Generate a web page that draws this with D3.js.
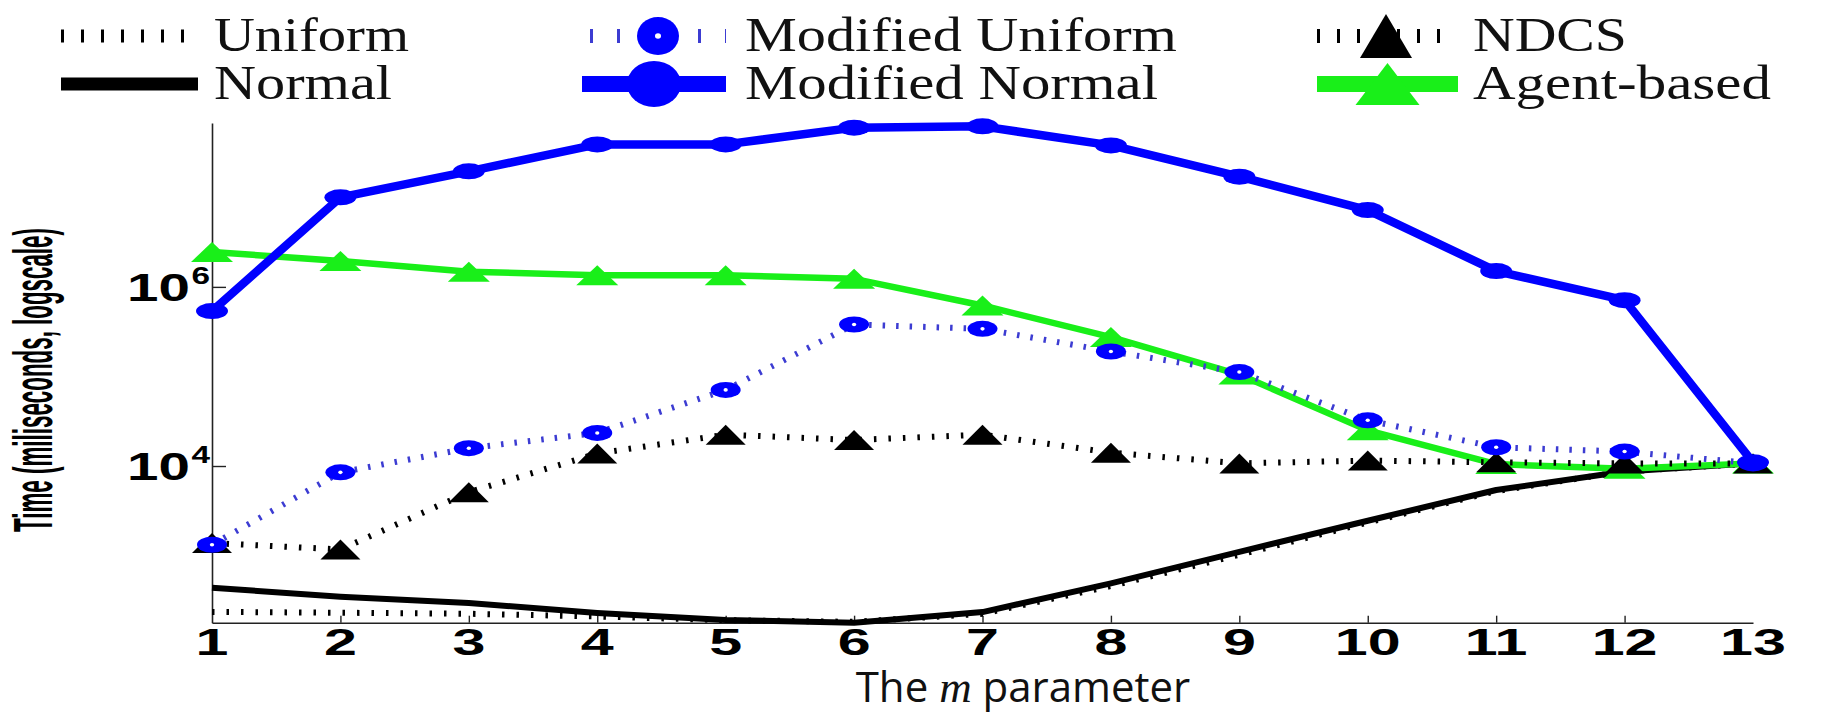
<!DOCTYPE html>
<html><head><meta charset="utf-8">
<script src="https://cdn.jsdelivr.net/npm/d3@7"></script>
<style>body{margin:0;background:#fff}svg{display:block}</style>
</head><body><svg id="chart" width="1834" height="720"></svg>
<script>
// ---------- data (milliseconds) ----------
const mParams      = [1,2,3,4,5,6,7,8,9,10,11,12,13];
const uniformMs    = [235,230,224,209,190,182,224,457,1020,2340,5250,8700,10700];
const normalMs     = [437,347,295,229,191,178,234,490,1100,2450,5400,8700,10700];
const agentMs      = [2450000,1950000,1480000,1350000,1350000,1230000,620000,275000,105000,25000,10500,9300,10700];
const ndcsMs       = [1380,1170,5100,13800,22400,19500,22400,14100,10700,11500,11000,10700,10700];
const modUniformMs = [1320,8500,15800,23400,70800,380000,340000,190000,112000,32400,16200,14500,10700];
const modNormalMs  = [537000,10000000,19500000,39000000,39000000,60000000,62000000,38000000,17000000,7200000,1500000,710000,11000];
const xTickLabels  = ["1","2","3","4","5","6","7","8","9","10","11","12","13"];
const yTickValues  = [1e4, 1e6];
const yTickExps    = ["4","6"];
const yDomain      = [178, 67600000];
const seriesNames  = ["Uniform","Normal","Modified Uniform","Modified Normal","NDCS","Agent-based"];

// ---------- styles ----------
const styles = {
  "Uniform":          {data: uniformMs,    color:"#000", width:6, dash:"2.5,12", marker:null},
  "Normal":           {data: normalMs,     color:"#000", width:6, dash:null,   marker:null},
  "Agent-based":      {data: agentMs,      color:"#19ef19", width:6.5, dash:null, marker:"tri", mfill:"#19ef19", mw:42, mh:20},
  "NDCS":             {data: ndcsMs,       color:"#000", width:6, dash:"2.5,12", marker:"tri", mfill:"#000", mw:40, mh:20},
  "Modified Uniform": {data: modUniformMs, color:"#3c3cd2", width:6, dash:"2.5,11", marker:"ring", mfill:"#0000ff", mw:30, mh:16},
  "Modified Normal":  {data: modNormalMs,  color:"#0000ff", width:8.5, dash:null, marker:"dot", mfill:"#0000ff", mw:32, mh:16}
};
const drawOrder = ["Uniform","Normal","Agent-based","NDCS","Modified Uniform","Modified Normal"];

const svg = d3.select("#chart");
const x = d3.scaleLinear().domain([1,13]).range([212,1753]);
const y = d3.scaleLog().domain(yDomain).range([622.7,123]);

// scale a text horizontally (in its own frame) to a target length
function fitTo(sel, base, target){
  const len = sel.node().getComputedTextLength();
  sel.attr("transform", `${base} scale(${target/len},1)`);
}

// axes
const gx = svg.append("g").attr("transform","translate(0,622.7)")
  .call(d3.axisBottom(x).tickValues(mParams.slice(1,-1)).tickSize(-7).tickSizeOuter(0).tickFormat(""));
const gy = svg.append("g").attr("transform","translate(212,0)")
  .call(d3.axisLeft(y).tickValues(yTickValues).tickSize(-14).tickSizeOuter(0).tickFormat(""));
[gx,gy].forEach(g=>{g.select(".domain").attr("stroke","#222").attr("stroke-width",1.6);
  g.selectAll(".tick line").attr("stroke","#222").attr("stroke-width",1.4);});

// x tick labels
svg.append("g").selectAll("text").data(mParams).join("text")
  .attr("transform",(d)=>`translate(${x(d)},655) scale(1.6,1)`)
  .attr("text-anchor","middle")
  .style("font-family","Liberation Sans, Arial, sans-serif").style("font-weight","bold").style("font-size","37px")
  .text((d,i)=>xTickLabels[i]);

// y tick labels
yTickValues.forEach((v,i)=>{
  const t = svg.append("text").attr("transform",`translate(210,${y(v)+14}) scale(1.45,1)`)
    .attr("text-anchor","end")
    .style("font-family","Liberation Sans, Arial, sans-serif").style("font-weight","bold").style("font-size","39px");
  t.append("tspan").text("10");
  t.append("tspan").attr("dy",-17).attr("dx",1).style("font-size","23px").text(yTickExps[i]);
});

// axis titles
const xl = svg.append("text").attr("x",1023).attr("y",702).attr("text-anchor","middle")
  .style("font-family","Open Sans, sans-serif").style("font-size","42px").attr("fill","#111");
xl.append("tspan").text("The ");
xl.append("tspan").style("font-family","Liberation Serif, serif").style("font-style","italic").style("font-size","45px").text("m");
xl.append("tspan").text(" parameter");

const yl = svg.append("text")
  .attr("text-anchor","middle").attr("dominant-baseline","central")
  .style("font-family","Liberation Sans, Arial, sans-serif").style("font-weight","bold").style("font-size","56px")
  .text("Time (miliseconds, logscale)");
fitTo(yl, "translate(32,380) rotate(-90)", 304);

// marker drawing
function drawMarker(g, cx, cy, marker, fill, w, h){
  if(marker==="tri"){
    g.append("path").attr("d",`M${cx-w/2},${cy+h/2}L${cx},${cy-h/2}L${cx+w/2},${cy+h/2}Z`).attr("fill",fill);
  } else {
    g.append("ellipse").attr("cx",cx).attr("cy",cy).attr("rx",w/2).attr("ry",h/2).attr("fill",fill);
    if(marker==="ring")
      g.append("ellipse").attr("cx",cx).attr("cy",cy).attr("rx",Math.max(2,w/14)).attr("ry",Math.max(1.8,h/14)).attr("fill","#fff");
  }
}

// series
const line = d3.line().x((d,i)=>x(mParams[i])).y(d=>y(d));
drawOrder.forEach(name=>{
  const s = styles[name];
  const g = svg.append("g");
  g.append("path").attr("d",line(s.data)).attr("fill","none").attr("stroke",s.color)
    .attr("stroke-width",s.width).attr("stroke-dasharray",s.dash).attr("stroke-linejoin","round");
  if(s.marker) s.data.forEach((v,i)=>drawMarker(g, x(mParams[i]), y(v), s.marker, s.mfill, s.mw, s.mh));
});

// legend
const legendPos = {
  "Uniform":          {x0:61,  x1:196, tx:214, row:0, tl:195, lw:13, dash:"3,17"},
  "Normal":           {x0:61,  x1:198, tx:214, row:1, tl:178, lw:13},
  "Modified Uniform": {x0:590, x1:726, tx:745, row:0, tl:432, lw:14, dash:"3,24", mw:42, mh:38},
  "Modified Normal":  {x0:582, x1:726, tx:745, row:1, tl:413, lw:16, mw:54, mh:46},
  "NDCS":             {x0:1317,x1:1455,tx:1473,row:0, tl:154, lw:14, dash:"3,17", mw:52, mh:44},
  "Agent-based":      {x0:1317,x1:1458,tx:1473,row:1, tl:298, lw:16, mw:64, mh:42}
};
const rowY = [36, 84], rowBase = [51, 99];
const lg = svg.append("g");
seriesNames.forEach(name=>{
  const s = styles[name], p = legendPos[name], cy = rowY[p.row];
  lg.append("line").attr("x1",p.x0).attr("x2",p.x1).attr("y1",cy).attr("y2",cy)
    .attr("stroke",s.color).attr("stroke-width",p.lw)
    .attr("stroke-dasharray", p.dash || null);
  if(s.marker) drawMarker(lg, (p.x0+p.x1)/2, cy, s.marker, s.mfill, p.mw, p.mh);
  const t = lg.append("text")
    .style("font-family","Liberation Serif, Times New Roman, serif").style("font-size","48px").attr("fill","#111")
    .text(name);
  fitTo(t, `translate(${p.tx},${rowBase[p.row]})`, p.tl);
});
</script></body></html>
